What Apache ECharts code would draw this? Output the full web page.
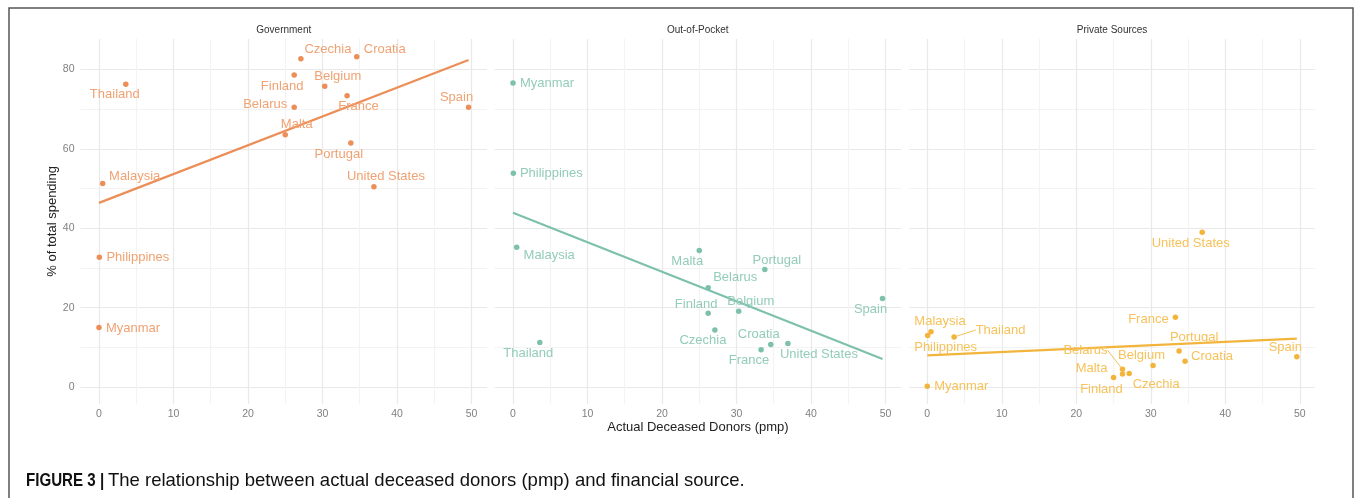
<!DOCTYPE html>
<html><head><meta charset="utf-8">
<script src="https://cdn.jsdelivr.net/npm/echarts@6/dist/echarts.min.js"></script>
<style>html,body{margin:0;padding:0;background:#fff}#c{width:1355px;height:498px}</style>
</head><body><div id="c"></div><script>
// ---------- data ----------
const countries = ['Thailand','Malaysia','Philippines','Myanmar','Czechia','Croatia','Finland','Belgium','Belarus','France','Malta','Spain','Portugal','United States'];
const donors = [3.6, 0.5, 0.05, 0, 27.1, 34.6, 26.2, 30.3, 26.2, 33.3, 25.0, 49.6, 33.8, 36.9];
const government = [76.3, 51.3, 32.7, 15.0, 82.7, 83.2, 78.6, 75.8, 70.5, 73.4, 63.6, 70.5, 61.5, 50.5];
const outOfPocket = [11.2, 35.2, 53.9, 76.6, 14.4, 10.7, 18.6, 19.1, 25.0, 9.4, 34.4, 22.3, 29.6, 11.0];
const privateSources = [12.6, 13.9, 13.0, 0.2, 3.4, 6.5, 3.3, 5.4, 4.5, 17.6, 2.4, 7.6, 9.1, 39.0];
const panelTitles = ['Government', 'Out-of-Pocket', 'Private Sources'];
const fitX = [0, 49.6];
const fitGovernment = [46.4, 82.4];
const fitOutOfPocket = [43.9, 7.05];
const fitPrivate = [8.0, 12.2];
const xTickLabels = [0, 10, 20, 30, 40, 50];
const yTickLabels = [0, 20, 40, 60, 80];
const xGridValues = [0, 5, 10, 15, 20, 25, 30, 35, 40, 45, 50];
const yGridValues = [0, 10, 20, 30, 40, 50, 60, 70, 80];
const xTitle = 'Actual Deceased Donors (pmp)';
const yTitle = '% of total spending';
const captionBold = 'FIGURE 3 |';
const captionText = 'The relationship between actual deceased donors (pmp) and financial source.';

// ---------- layout / style (not data) ----------
const panelValues = [government, outOfPocket, privateSources];
const panelFits = [fitGovernment, fitOutOfPocket, fitPrivate];
const pointColors = ['#EC8E57', '#7DC0AC', '#F3B43C'];
const labelColors = ['#F0A272', '#93CCBA', '#F6C25A'];
const gridLefts = [80.5, 494.5, 908.8];
const gridWidth = 406.5;
const gridTop = 39, gridHeight = 364.7;
const xMin = -2.48, xMax = 52.08, yMin = -4.2, yMax = 87.7;
// label offsets in pixels [dx, dy] relative to the point (ggrepel-like placement)
const labelOffsets = [
  { 'Thailand':[-11,10], 'Malaysia':[32,-7], 'Philippines':[38.5,0], 'Myanmar':[34,1], 'Czechia':[27,-9], 'Croatia':[28,-7],
    'Finland':[-12,11], 'Belgium':[13,-10], 'Belarus':[-29,-3], 'France':[11.5,11], 'Malta':[11.5,-10], 'Spain':[-12,-10],
    'Portugal':[-12,11], 'United States':[12,-10] },
  { 'Thailand':[-11.5,11], 'Malaysia':[32.5,8], 'Philippines':[38,0], 'Myanmar':[34,0], 'Czechia':[-12,11], 'Croatia':[-12,-10],
    'Finland':[-12,-9], 'Belgium':[12,-10], 'Belarus':[27,-10], 'France':[-12,11], 'Malta':[-12,11], 'Spain':[-12,11],
    'Portugal':[12,-9], 'United States':[31,11] },
  { 'Thailand':[46.5,-7], 'Malaysia':[9,-10], 'Philippines':[18,12], 'Myanmar':[34,0], 'Czechia':[27,11], 'Croatia':[27,-5],
    'Finland':[-21,15], 'Belgium':[-11.5,-10], 'Belarus':[-37,-19], 'France':[-27,2], 'Malta':[-22,-9], 'Spain':[-11.5,-9],
    'Portugal':[15,-13], 'United States':[-11.5,11.4] }
];
const guideLines = [[], [], ['Thailand', 'Belarus']];

const grids = [], xAxes = [], yAxes = [], series = [];
for (let p = 0; p < 3; p++) {
  grids.push({ left: gridLefts[p], top: gridTop, width: gridWidth, height: gridHeight });
  xAxes.push({
    type: 'value', gridIndex: p, min: xMin, max: xMax,
    axisLine: { show: false },
    axisTick: { show: false, customValues: xGridValues },
    axisLabel: { customValues: xTickLabels, color: '#808080', fontSize: 10.5, margin: 5, fontFamily: 'Liberation Sans' },
    splitLine: { show: true, lineStyle: { color: ['#e9e9e9', '#f3f3f3'], width: 1.2 } }
  });
  yAxes.push({
    type: 'value', gridIndex: p, min: yMin, max: yMax,
    axisLine: { show: false },
    axisTick: { show: false, customValues: yGridValues },
    axisLabel: { show: p === 0, customValues: yTickLabels, color: '#808080', fontSize: 10.5, margin: 6, fontFamily: 'Liberation Sans' },
    splitLine: { show: true, lineStyle: { color: ['#e9e9e9', '#f3f3f3'], width: 1.2 } }
  });
  const vals = panelValues[p];
  const data = countries.map((c, i) => {
    const item = { value: [donors[i], vals[i]], name: c };
    if (guideLines[p].indexOf(c) >= 0) item.labelLine = { show: true, lineStyle: { color: labelColors[p], width: 1 } };
    return item;
  });
  series.push({
    type: 'line', xAxisIndex: p, yAxisIndex: p, z: 2,
    data: [[fitX[0], panelFits[p][0]], [fitX[1], panelFits[p][1]]],
    symbol: 'none', lineStyle: { color: pointColors[p], width: 2.2 }, silent: true, animation: false
  });
  series.push({
    type: 'scatter', xAxisIndex: p, yAxisIndex: p, z: 3,
    data: data, symbolSize: 5.5, itemStyle: { color: pointColors[p], opacity: 1 },
    label: { show: true, position: 'inside', formatter: (prm) => prm.name, color: labelColors[p],
             fontSize: 13, fontFamily: 'Liberation Sans', align: 'center', verticalAlign: 'middle' },
    labelLayout: ((pp) => (prm) => { const o = labelOffsets[pp][countries[prm.dataIndex]] || [0, 0]; return { dx: o[0], dy: o[1] }; })(p),
    animation: false
  });
}

const graphics = [
  { type: 'rect', shape: { x: 9, y: 8, width: 1344, height: 540 }, style: { fill: 'none', stroke: '#555', lineWidth: 1.5 }, z: 100 },
  { type: 'text', x: 52, y: gridTop + gridHeight / 2, rotation: Math.PI / 2,
    style: { text: yTitle, textAlign: 'center', textVerticalAlign: 'middle', fontSize: 13, fill: '#222', fontFamily: 'Liberation Sans' } },
  { type: 'text', x: (gridLefts[0] + gridLefts[2] + gridWidth) / 2, y: 427,
    style: { text: xTitle, textAlign: 'center', textVerticalAlign: 'middle', fontSize: 13, fill: '#222', fontFamily: 'Liberation Sans' } },
  { type: 'text', x: 26, y: 481, scaleX: 0.84, originX: 0, originY: 0,
    style: { text: captionBold, textVerticalAlign: 'middle', fontSize: 18, fontWeight: 'bold', fill: '#111', fontFamily: 'Liberation Sans' } },
  { type: 'text', x: 108, y: 481,
    style: { text: captionText, textVerticalAlign: 'middle', fontSize: 18.5, fill: '#111', fontFamily: 'Liberation Sans' } }
];
for (let p = 0; p < 3; p++) {
  graphics.push({ type: 'text', x: gridLefts[p] + gridWidth / 2, y: 30,
    style: { text: panelTitles[p], textAlign: 'center', textVerticalAlign: 'middle', fontSize: 10, fill: '#333', fontFamily: 'Liberation Sans' } });
}

const chart = echarts.init(document.getElementById('c'), null, { renderer: 'canvas' });
chart.setOption({
  backgroundColor: '#fff', animation: false,
  grid: grids, xAxis: xAxes, yAxis: yAxes, series: series, graphic: graphics
});
</script></body></html>
